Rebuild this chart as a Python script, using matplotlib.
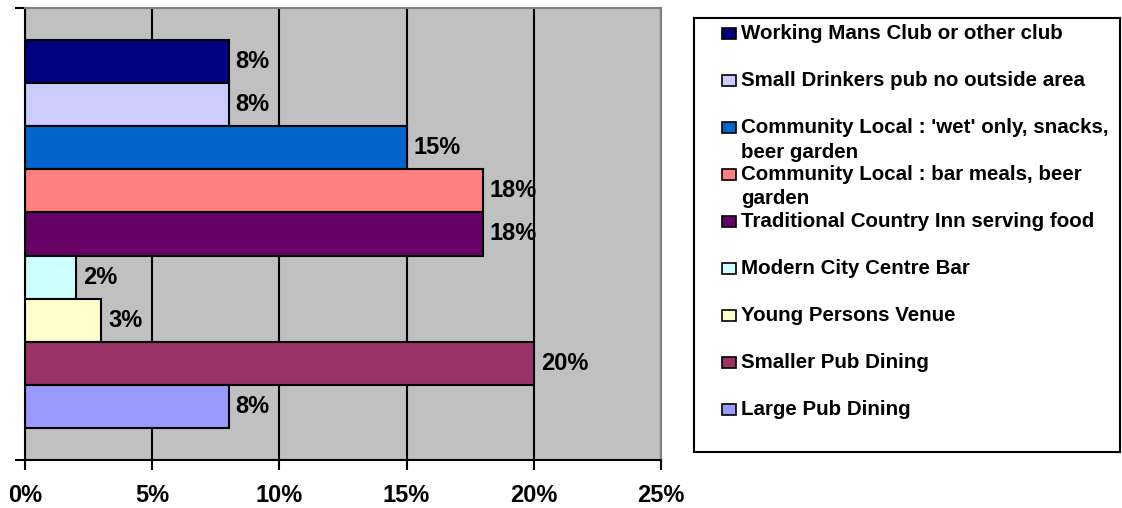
import matplotlib
matplotlib.use("Agg")
import matplotlib.pyplot as plt
from matplotlib.patches import Rectangle

categories = [
    "Working Mans Club or other club",
    "Small Drinkers pub no outside area",
    "Community Local : 'wet' only, snacks,\nbeer garden",
    "Community Local : bar meals, beer\ngarden",
    "Traditional Country Inn serving food",
    "Modern City Centre Bar",
    "Young Persons Venue",
    "Smaller Pub Dining",
    "Large Pub Dining",
]
values = [8, 8, 15, 18, 18, 2, 3, 20, 8]
colors = ["#000080", "#CCCCFF", "#0066CC", "#FF8080", "#660066",
          "#CCFFFF", "#FFFFCC", "#993366", "#9999FF"]
xticks = [0, 5, 10, 15, 20, 25]
xticklabels = ["0%", "5%", "10%", "15%", "20%", "25%"]

plt.rcParams['font.family'] = ['Liberation Sans', 'DejaVu Sans']
plt.rcParams['font.weight'] = 'bold'

W, H = 1122, 508
fig = plt.figure(figsize=(W / 100, H / 100), dpi=100)
fig.patch.set_facecolor("white")

# plot area in pixels: x 25..661, y 8..460
ax = fig.add_axes([25 / W, 1 - 460 / H, (661 - 25) / W, (460 - 8) / H])
ax.set_facecolor("#C0C0C0")

n = len(values)
pos = list(range(n))
gap = 0.742
ax.set_ylim(n - 0.5 + gap, -0.5 - gap)
ax.set_xlim(0, 25)

ax.set_xticks(xticks)
ax.set_xticklabels(xticklabels, fontsize=17, fontweight='bold')
ax.grid(axis='x', color='black', linewidth=1.5, zorder=0)
ax.set_axisbelow(True)

ax.barh(pos, values, height=1.0, color=colors, edgecolor='black',
        linewidth=1.5, zorder=2)

for p, v in zip(pos, values):
    ax.annotate(f"{v}%", xy=(v, p), xytext=(7, 0), textcoords='offset pixels',
                ha='left', va='center', fontsize=17, fontweight='bold',
                zorder=3)

ax.set_yticks([n - 0.5 + gap, -0.5 - gap])
ax.set_yticklabels(["", ""])
ax.tick_params(axis='y', direction='out', length=7, width=1.5, color='black')
ax.tick_params(axis='x', direction='out', length=7, width=1.5, color='black',
               pad=10)

for s in ['top', 'right']:
    ax.spines[s].set_color('#808080')
    ax.spines[s].set_linewidth(1.5)
for s in ['left', 'bottom']:
    ax.spines[s].set_color('black')
    ax.spines[s].set_linewidth(1.5)

# legend box: x 694..1120, y 18..452
lx0, lx1, ly0, ly1 = 694, 1120, 18, 452
lax = fig.add_axes([lx0 / W, 1 - ly1 / H, (lx1 - lx0) / W, (ly1 - ly0) / H])
lax.set_xlim(0, lx1 - lx0)
lax.set_ylim(ly1 - ly0, 0)
lax.set_xticks([])
lax.set_yticks([])
for s in lax.spines.values():
    s.set_color('black')
    s.set_linewidth(1.5)

first = 15.5
step = 47.0
line_h = 24.5
for i, (lab, c) in enumerate(zip(categories, colors)):
    yc = first + i * step
    lax.add_patch(Rectangle((28, yc - 5.5), 14, 11, facecolor=c,
                            edgecolor='black', linewidth=1.2))
    for k, line in enumerate(lab.split("\n")):
        lax.text(47, yc + k * line_h, line, ha='left', va='center',
                 fontsize=14.8, fontweight='bold')

fig.savefig("out.png", dpi=100)
